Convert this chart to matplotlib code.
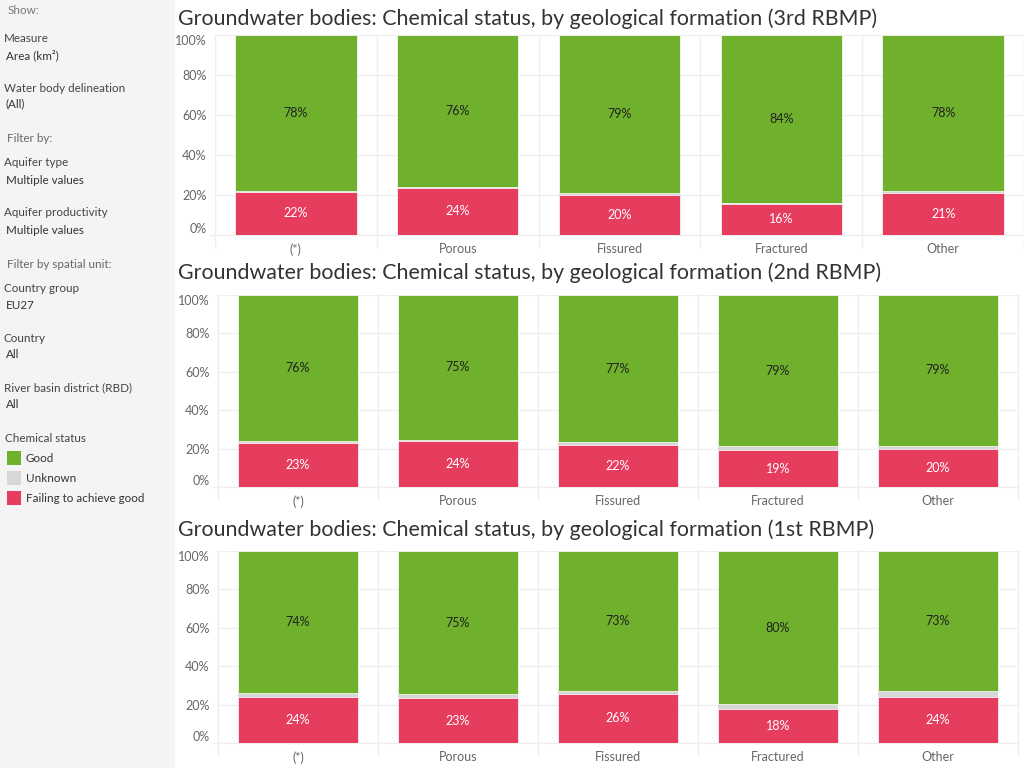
import numpy as np
from matplotlib import pyplot as plt
from matplotlib.patches import Rectangle

plt.rcParams['font.family'] = ['Lato', 'DejaVu Sans']

categories = ['(*)', 'Porous', 'Fissured', 'Fractured', 'Other']
titles = ['Groundwater bodies: Chemical status, by geological formation (3rd RBMP)',
          'Groundwater bodies: Chemical status, by geological formation (2nd RBMP)',
          'Groundwater bodies: Chemical status, by geological formation (1st RBMP)']

# share of area (%) per status
good_3rd = [78.0, 76.1, 79.2, 84.1, 78.1]
unknown_3rd = [0.3, 0.3, 0.6, 0.3, 1.1]
failing_3rd = [21.7, 23.6, 20.2, 15.6, 20.8]

good_2nd = [76.2, 75.4, 76.6, 78.8, 78.6]
unknown_2nd = [0.8, 0.5, 1.5, 2.0, 1.6]
failing_2nd = [23.0, 24.1, 21.9, 19.2, 19.8]

good_1st = [74.0, 74.6, 72.9, 79.8, 72.8]
unknown_1st = [2.2, 2.2, 1.4, 2.6, 3.2]
failing_1st = [23.8, 23.2, 25.7, 17.6, 24.0]

yticks = [0, 20, 40, 60, 80, 100]
legend_labels = ['Good', 'Unknown', 'Failing to achieve good']

GREEN = '#6fb12c'
GREY = '#d7d7d7'
RED = '#e63c5d'
GRID = '#efefef'

W, H = 1024, 768
fig = plt.figure(figsize=(W / 100, H / 100), dpi=100)

def px_axes(x0, y0, x1, y1):
    return fig.add_axes([x0 / W, 1 - y1 / H, (x1 - x0) / W, (y1 - y0) / H])

# sidebar
fig.patches.append(Rectangle((0, 0), 175 / W, 1, transform=fig.transFigure,
                             facecolor='#f4f4f4', edgecolor='none', zorder=0))

side = [
    (8, 11, 'Show:', '#777777'),
    (4, 38, 'Measure', '#444444'),
    (6, 55, 'Area (km²)', '#333333'),
    (4, 88, 'Water body delineation', '#444444'),
    (6, 104, '(All)', '#333333'),
    (7, 138, 'Filter by:', '#666666'),
    (4, 163, 'Aquifer type', '#444444'),
    (6, 180, 'Multiple values', '#333333'),
    (4, 213, 'Aquifer productivity', '#444444'),
    (6, 230, 'Multiple values', '#333333'),
    (7, 264, 'Filter by spatial unit:', '#666666'),
    (4, 288, 'Country group', '#444444'),
    (6, 305, 'EU27', '#333333'),
    (4, 338, 'Country', '#444444'),
    (6, 355, 'All', '#333333'),
    (4, 388, 'River basin district (RBD)', '#444444'),
    (6, 405, 'All', '#333333'),
    (5, 439, 'Chemical status', '#444444'),
]
for x, y, s, c in side:
    fig.text(x / W, 1 - y / H, s, fontsize=8.4, color=c, va='center', ha='left')

for i, (lab, col) in enumerate(zip(legend_labels, [GREEN, GREY, RED])):
    yc = 458 + 20 * i
    fig.patches.append(Rectangle((7 / W, 1 - (yc + 7) / H), 14 / W, 14 / H,
                                 transform=fig.transFigure, facecolor=col, edgecolor='none'))
    fig.text(26 / W, 1 - yc / H, lab, fontsize=8.4, color='#333333', va='center')

panels = [
    (titles[0], good_3rd, unknown_3rd, failing_3rd, (215, 35, 1024, 235), 19),
    (titles[1], good_2nd, unknown_2nd, failing_2nd, (218, 295, 1018, 487), 273),
    (titles[2], good_1st, unknown_1st, failing_1st, (218, 551, 1018, 743), 530),
]

x = np.arange(len(categories))
for title, good, unk, fail, box, ty in panels:
    ax = px_axes(*box)
    good = np.array(good); unk = np.array(unk); fail = np.array(fail)
    ax.bar(x, fail, width=0.75, color=RED, edgecolor='white', linewidth=0.5, zorder=3)
    ax.bar(x, unk, bottom=fail, width=0.75, color=GREY, edgecolor='none', zorder=3)
    ax.bar(x, good, bottom=fail + unk, width=0.75, color=GREEN, edgecolor='white',
           linewidth=0.5, zorder=3)
    for xi, g, u, f in zip(x, good, unk, fail):
        ax.text(xi, f / 2, '%.0f%%' % f, ha='center', va='center', color='white',
                fontsize=9, zorder=4)
        ax.text(xi, f + u + g / 2, '%.0f%%' % g, ha='center', va='center',
                color='#222222', fontsize=9, zorder=4)
    ax.set_xlim(-0.5, len(categories) - 0.5)
    ax.set_ylim(0, 100)
    ax.set_yticks(yticks)
    ax.set_yticklabels(['%d%%' % t for t in yticks])
    ax.set_xticks(x)
    ax.set_xticklabels(categories)
    ax.tick_params(axis='both', length=0, colors='#666666', labelsize=9)
    ax.tick_params(axis='x', pad=6)
    ax.tick_params(axis='y', pad=6)
    tl = ax.get_yticklabels()
    tl[0].set_va('bottom')
    tl[-1].set_va('top')
    for t in yticks:
        ax.axhline(t, color=GRID, linewidth=1, zorder=1)
    for b in np.arange(len(categories) + 1) - 0.5:
        ax.plot([b, b], [-6, 100], color=GRID, linewidth=1, zorder=1, clip_on=False)
    ax.plot([-0.5 - 0.03, len(categories) - 0.5], [0, 0], color=GRID, lw=1, clip_on=False)
    for s in ax.spines.values():
        s.set_visible(False)
    fig.text(178 / W, 1 - ty / H, title, fontsize=15.4, color='#333333',
             va='center', ha='left')

fig.savefig('out.png', dpi=100, facecolor='white')
